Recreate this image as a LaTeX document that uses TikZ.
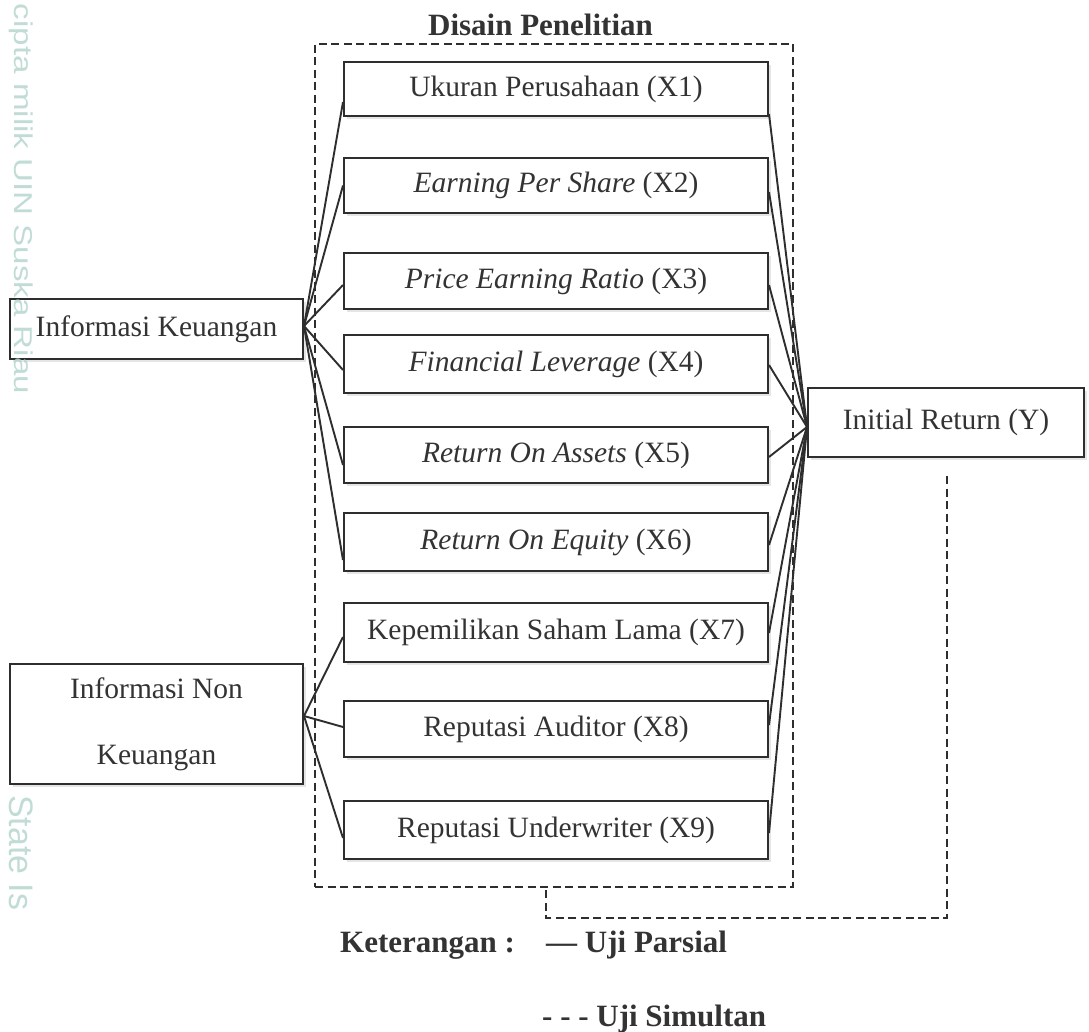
\documentclass[tikz,border=0pt]{standalone}
\usepackage{fontspec}
\setmainfont{Liberation Serif}
\newfontfamily\wmfont{Liberation Sans}
\usetikzlibrary{calc,shadows}
\definecolor{txt}{HTML}{333333}
\definecolor{ln}{HTML}{2E2E2E}
\definecolor{wm}{HTML}{B5D6CE}
\begin{document}
\begin{tikzpicture}[x=1pt,y=-1pt,
  boxbase/.style={draw=ln, line width=2pt, fill=white, text=txt, inner sep=0pt,
    font=\fontsize{29.5}{34}\selectfont,
    drop shadow={shadow xshift=2.5pt, shadow yshift=-3pt, opacity=0.2}},
  xbox/.style={boxbase, minimum width=424pt},
  conn/.style={draw=ln, line width=1.9pt},
  dashln/.style={draw=ln, line width=1.6pt, dash pattern=on 8pt off 4.5pt},
  boldtxt/.style={text=txt, inner sep=0pt, font=\fontsize{31}{36}\selectfont\bfseries}]
\useasboundingbox (0,0) rectangle (1089,1032);
\fill[white] (0,0) rectangle (1089,1032);
% title
\node[boldtxt, anchor=base] (title) at (540.5,36) {Disain Penelitian};
% dashed frame
\node[dashln, minimum width=478pt, minimum height=843pt, inner sep=0pt] (frame) at (554,465.5) {};
% variable boxes
\node[xbox, minimum height=54pt] (X1) at (556,89) {Ukuran Perusahaan (X1)};
\node[xbox, minimum height=55pt] (X2) at (556,185.5) {\textit{Earning Per Share} (X2)};
\node[xbox, minimum height=56pt] (X3) at (556,281) {\textit{Price Earning Ratio} (X3)};
\node[xbox, minimum height=58pt] (X4) at (556,364) {\textit{Financial Leverage} (X4)};
\node[xbox, minimum height=56pt] (X5) at (556,455) {\textit{Return On Assets} (X5)};
\node[xbox, minimum height=58pt] (X6) at (556,542) {\textit{Return On Equity} (X6)};
\node[xbox, minimum height=59pt] (X7) at (556,632.5) {Kepemilikan Saham Lama (X7)};
\node[xbox, minimum height=56pt] (X8) at (556,729) {Reputasi Auditor (X8)};
\node[xbox, minimum height=58pt] (X9) at (556,830) {Reputasi Underwriter (X9)};
% group boxes
\node[boxbase, minimum width=293pt, minimum height=60pt] (IK) at (156.5,329) {Informasi Keuangan};
\node[boxbase, minimum width=293pt, minimum height=120pt, align=center,
  font=\fontsize{29.5}{66}\selectfont] (NK) at (156.5,724) {Informasi Non\\Keuangan};
\node[boxbase, minimum width=276pt, minimum height=69pt] (Y) at (946,422.5) {Initial Return (Y)};
% connectors from Informasi Keuangan
\draw[conn] ($(IK.east)+(0,-3)$) -- ($(X1.west)+(0,13)$);
\draw[conn] ($(IK.east)+(0,-3)$) -- ($(X2.west)+(0,0)$);
\draw[conn] ($(IK.east)+(0,-3)$) -- ($(X3.west)+(0,4)$);
\draw[conn] ($(IK.east)+(0,-3)$) -- ($(X4.west)+(0,6)$);
\draw[conn] ($(IK.east)+(0,-3)$) -- ($(X5.west)+(0,10)$);
\draw[conn] ($(IK.east)+(0,-3)$) -- ($(X6.west)+(0,18)$);
% connectors from Informasi Non Keuangan
\draw[conn] ($(NK.east)+(0,-8)$) -- ($(X7.west)+(0,4.5)$);
\draw[conn] ($(NK.east)+(0,-8)$) -- ($(X8.west)+(0,-2)$);
\draw[conn] ($(NK.east)+(0,-8)$) -- ($(X9.west)+(0,8)$);
% connectors to Initial Return
\draw[conn] ($(X1.east)+(0,25)$) -- ($(Y.west)+(0,4.5)$);
\draw[conn] ($(X2.east)+(0,6.5)$) -- ($(Y.west)+(0,4.5)$);
\draw[conn] ($(X3.east)+(0,4)$) -- ($(Y.west)+(0,4.5)$);
\draw[conn] ($(X4.east)+(0,1)$) -- ($(Y.west)+(0,4.5)$);
\draw[conn] ($(X5.east)+(0,2)$) -- ($(Y.west)+(0,4.5)$);
\draw[conn] ($(X6.east)+(0,3)$) -- ($(Y.west)+(0,4.5)$);
\draw[conn] ($(X7.east)+(0,0.5)$) -- ($(Y.west)+(0,4.5)$);
\draw[conn] ($(X8.east)+(0,-4)$) -- ($(Y.west)+(0,4.5)$);
\draw[conn] ($(X9.east)+(0,3)$) -- ($(Y.west)+(0,4.5)$);
% simultaneous test path
\draw[dashln] ($(Y.south)+(1,18)$) |- ($(frame.south)+(-8,30)$) -- ($(frame.south)+(-8,0)$);
% legend
\node[boldtxt, anchor=base west] (ket) at (340,952) {Keterangan :};
\node[boldtxt, anchor=base west] (parsial) at (546,952) {— Uji Parsial};
\node[boldtxt, anchor=base west] (simultan) at (542,1026) {- - - Uji Simultan};
% watermark text on the left (drawn over the boxes, faint)
\node[rotate=-90, text=wm, inner sep=0pt, opacity=0.85] (wm1) at (21,199)
  {\resizebox*{390pt}{24pt}{\wmfont cipta milik UIN Suska Riau}};
\node[rotate=-90, text=wm, inner sep=0pt, anchor=south west, opacity=0.85] (wm2) at (9,795)
  {\resizebox*{!}{24pt}{\wmfont State Is}};
\end{tikzpicture}
\end{document}
